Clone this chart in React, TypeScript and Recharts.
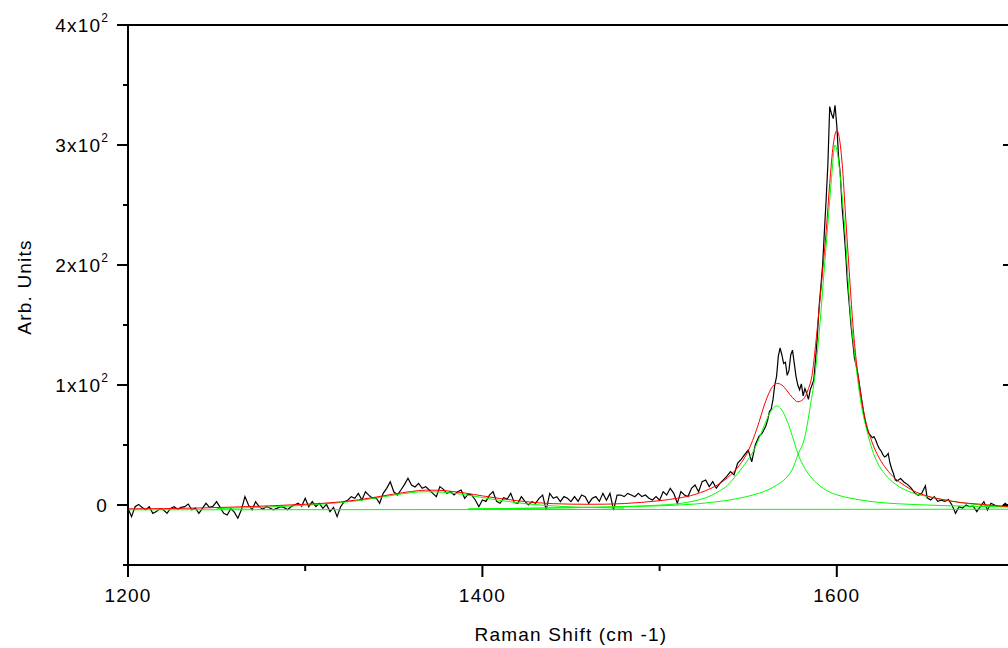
import React from 'react';
import { LineChart, Line, XAxis, YAxis, ReferenceLine } from 'recharts';

// ---- measured spectrum (Raman shift, counts) ----
const shift: number[] = [
  1200,1202,1204,1206,1208,1210,1212,1214,1216,1218,1220,1222,1224,1226,1228,1230,1232,1234,1236,1238,
  1240,1242,1244,1246,1248,1250,1252,1254,1256,1258,1260,1262,1264,1266,1268,1270,1272,1274,1276,1278,
  1280,1282,1284,1286,1288,1290,1292,1294,1296,1298,1300,1302,1304,1306,1308,1310,1312,1314,1316,1318,
  1320,1322,1324,1326,1328,1330,1332,1334,1336,1338,1340,1342,1344,1346,1348,1350,1352,1354,1356,1358,
  1360,1362,1364,1366,1368,1370,1372,1374,1376,1378,1380,1382,1384,1386,1388,1390,1392,1394,1396,1398,
  1400,1402,1404,1406,1408,1410,1412,1414,1416,1418,1420,1422,1424,1426,1428,1430,1432,1434,1436,1438,
  1440,1442,1444,1446,1448,1450,1452,1454,1456,1458,1460,1462,1464,1466,1468,1470,1472,1474,1476,1478,
  1480,1482,1484,1486,1488,1490,1492,1494,1496,1498,1500,1502,1504,1506,1508,1510,1512,1514,1516,1518,
  1520,1522,1524,1526,1528,1530,1532,1534,1536,1538,1540,1542,1544,1546,1548,1550,1552,1554,1556,1558,
  1560,1561,1562,1563,1564,1565,1566,1567,1568,1569,1570,1571,1572,1573,1574,1575,1576,1577,1578,1579,
  1580,1581,1582,1583,1584,1585,1586,1587,1588,1589,1590,1591,1592,1593,1594,1595,1596,1597,1598,1599,
  1600,1601,1602,1603,1604,1605,1606,1607,1608,1609,1610,1611,1612,1613,1614,1615,1616,1617,1618,1619,
  1620,1621,1622,1623,1624,1625,1626,1627,1628,1629,1630,1631,1632,1633,1634,1636,1638,1640,1642,1644,
  1646,1648,1650,1651,1653,1655,1657,1659,1661,1663,1665,1667,1669,1671,1673,1675,1677,1679,1681,1683,
  1685,1687,1689,1691,1693,1695,1697,1699,1700,
];
const counts: number[] = [
  -2.8,-9.7,-1.4,0.5,-2.0,-4.0,-1.4,-7.0,-5.5,-3.0,-4.0,-7.0,-2.8,-1.4,-3.6,-2.0,-1.4,0.8,-4.0,-2.5,
  -7.0,-2.8,1.4,-2.0,-1.0,2.8,-2.0,-7.0,-8.3,-3.0,-6.0,-11.0,-4.0,7.0,0.0,-4.0,2.8,-1.4,-3.6,-1.4,
  -2.5,-4.0,-2.8,-1.4,-2.0,-4.0,-1.5,0.0,1.4,-1.0,5.6,-1.4,2.8,-1.4,1.4,-2.8,0.5,-5.5,-2.0,-9.7,
  -1.4,2.8,4.0,7.0,5.6,9.7,4.2,11.0,8.0,5.6,6.0,1.4,9.7,13.9,19.4,11.0,8.3,12.5,17.0,22.3,
  16.7,15.0,18.0,13.9,15.3,12.5,9.7,7.0,15.3,13.0,9.7,11.0,8.3,11.0,12.5,5.6,9.0,8.3,4.2,-1.4,
  4.2,3.0,8.3,11.1,3.0,1.4,6.0,5.0,9.7,2.0,1.4,7.0,3.0,0.0,2.8,1.4,5.6,8.3,-4.2,9.7,
  5.6,6.9,2.8,7.0,5.6,2.8,7.0,3.0,8.3,7.0,1.4,5.6,7.0,3.0,9.7,4.0,9.7,-4.2,8.3,8.3,
  7.0,9.7,8.3,6.9,9.7,7.0,8.3,5.6,4.2,7.0,4.0,11.1,8.3,13.9,9.7,1.4,11.1,8.3,7.0,13.9,
  16.7,11.1,19.4,20.8,15.3,19.4,14.0,18.0,21.0,24.0,27.8,25.0,34.7,38.0,42.0,45.8,36.0,50.0,57.0,60.0,
  66.0,71.0,78.0,80.0,88.0,100.0,107.0,124.0,131.0,125.0,118.0,119.0,108.0,112.0,125.0,129.0,118.0,107.0,100.0,96.0,
  101.0,91.0,97.0,93.0,88.0,96.0,100.0,104.0,121.0,140.0,165.0,182.0,200.0,228.0,255.0,285.0,332.0,326.0,322.0,333.0,
  316.0,290.0,275.0,248.0,230.0,210.0,185.0,168.0,150.0,136.0,122.0,116.0,108.0,98.0,88.0,78.0,70.0,64.0,60.0,58.0,
  56.0,57.0,54.0,50.0,47.0,45.0,42.0,40.0,41.0,43.0,35.0,30.0,26.0,21.0,20.0,22.0,19.0,17.0,14.0,10.0,
  8.0,10.0,16.0,6.0,4.2,7.0,3.0,4.0,3.0,4.5,0.0,-6.9,-1.4,-2.5,0.0,-1.4,-1.0,-5.5,-1.4,2.8,
  -4.2,1.4,0.0,-1.0,-1.4,1.4,-1.0,0.5,-1.0,
];

// ---- cumulative fit (red) ----
const fitShift: number[] = [
  1200,1220,1240,1260,1280,1300,1310,1320,1330,1340,1350,1360,1368,1375,1383,1390,1400,1410,1420,1430,
  1440,1450,1460,1470,1480,1490,1500,1510,1520,1526,1533,1540,1545,1550,1555,1560,1563,1566,1569,1572,
  1575,1578,1581,1584,1586,1588,1590,1592,1594,1596,1598,1600,1601,1603,1605,1607,1609,1611,1613,1616,
  1620,1624,1628,1633,1638,1643,1651,1661,1670,1680,1690,1700,
];
const fitTotal: number[] = [
  -3.2,-3.0,-2.5,-1.7,-0.7,0.6,1.4,2.6,4.3,6.6,9.1,11.3,12.4,12.3,11.3,10.0,7.6,5.4,3.5,2.0,
  1.1,0.7,0.6,0.7,1.2,2.2,3.6,5.6,8.8,12.0,17.0,25.0,33.0,45.0,64.0,87.0,97.0,101.4,100.0,95.0,
  89.5,86.0,88.0,97.0,108.0,133.0,163.0,195.0,228.0,268.0,300.0,312.0,309.0,285.0,240.0,195.0,152.0,120.0,97.0,72.0,
  52.0,39.0,30.0,22.0,16.5,12.0,7.5,4.2,2.0,0.8,-0.6,-1.6,
];

// ---- fitted components (green) ----
const baseShift: number[] = [1200, 1700];
const baseVal: number[] = [-4.0, -3.5];

const dShift: number[] = [
  1250,1270,1290,1300,1310,1320,1330,1340,1350,1360,1368,1375,1385,1395,1405,1415,1425,1435,1445,1460,1480,
];
const dVal: number[] = [
  -3.0,-2.2,-1.0,-0.2,0.8,2.0,3.6,5.8,8.2,10.3,11.1,10.9,9.6,7.5,5.0,2.8,1.0,-0.3,-1.2,-2.0,-2.6,
];

const g1Shift: number[] = [
  1392,1420,1450,1470,1490,1500,1510,1520,1526,1533,1538,1542,1546,1550,1553,1556,1559,1562,1564,1566,
  1568,1570,1572,1575,1578,1581,1585,1590,1595,1600,1608,1616,1625,1635,1645,1660,1680,1700,
];
const g1Val: number[] = [
  -3.3,-2.9,-2.3,-1.7,-0.8,-0.1,1.0,3.5,6.0,11.0,16.0,22.5,30.0,38.0,45.0,55.0,66.0,76.0,80.5,82.5,
  81.0,76.5,70.0,57.0,43.0,33.0,24.0,16.5,11.5,8.5,5.6,3.6,2.0,1.0,0.3,-0.5,-1.2,-1.6,
];

const g2Shift: number[] = [
  1392,1420,1450,1470,1490,1500,1510,1520,1530,1540,1550,1556,1561,1566,1571,1575,1578,1582,1585,1588,
  1590.5,1593,1595,1597,1599,1600.5,1602.7,1604.6,1607.4,1610.3,1614,1617,1620,1623,1627,1633,1642,1652,1661,1670,
  1680,1690,1700,
];
const g2Val: number[] = [
  -3.3,-2.8,-2.2,-1.7,-1.1,-0.7,-0.1,0.8,2.3,4.3,7.3,9.8,12.5,16.5,22.0,30.0,41.7,57.0,82.0,112.0,
  151.0,198.0,235.0,272.0,300.0,292.0,262.0,229.0,165.0,123.0,82.0,62.0,46.0,35.0,26.0,17.5,10.5,6.8,4.2,2.0,
  0.2,-1.0,-1.6,
];

// ---- axes ----
const xTicks: number[] = [1200, 1300, 1400, 1500, 1600, 1700];
const xMajor: number[] = [1200, 1400, 1600];
const yTicks: number[] = [-50, 0, 50, 100, 150, 200, 250, 300, 350, 400];
const yMajor: number[] = [0, 100, 200, 300, 400];
const yMantissa: string[] = ['0', '1', '2', '3', '4'];
const rightTickStart = 1693.8; // inward tick on the mirrored right axis (~11px)

const toPts = (xs: number[], ys: number[]) => xs.map((x, i) => ({ x, y: ys[i] }));
const rawData = toPts(shift, counts);
const fitData = toPts(fitShift, fitTotal);
const baseData = toPts(baseShift, baseVal);
const dData = toPts(dShift, dVal);
const g1Data = toPts(g1Shift, g1Val);
const g2Data = toPts(g2Shift, g2Val);

const FONT = '"Liberation Sans", Arial, sans-serif';
const txt = { fontFamily: FONT, fontSize: 19, letterSpacing: 1.2, fill: '#000' } as const;

const XTick = (props: any) => {
  const { x, y, payload } = props;
  const v = payload.value as number;
  const major = xMajor.includes(v);
  return (
    <g>
      <line x1={x} x2={x} y1={y} y2={y + (major ? 12 : 6)} stroke="#000" strokeWidth={2} />
      {major && (
        <text x={x} y={y + 37} textAnchor="middle" style={txt}>
          {String(v)}
        </text>
      )}
    </g>
  );
};

const YTick = (props: any) => {
  const { x, y, payload } = props;
  const v = payload.value as number;
  const idx = yMajor.indexOf(v);
  const major = idx >= 0;
  return (
    <g>
      <line x1={x - (major ? 11 : 5)} x2={x} y1={y} y2={y} stroke="#000" strokeWidth={2} />
      {major && (
        <text x={x - 20} y={y + 7} textAnchor="end" style={txt}>
          {v === 0 ? (
            '0'
          ) : (
            <>
              {yMantissa[idx] + 'x10'}
              <tspan dy={-10} style={{ fontSize: 12, letterSpacing: 0 }}>2</tspan>
            </>
          )}
        </text>
      )}
    </g>
  );
};

const XTitle = () => (
  <text x={571} y={641} textAnchor="middle" style={txt}>
    Raman Shift (cm -1)
  </text>
);

const YTitle = () => (
  <text x={31} y={287} textAnchor="middle" transform="rotate(-90, 31, 287)" style={txt}>
    Arb. Units
  </text>
);

export default function App() {
  return (
    <div
      style={{
        position: 'fixed',
        left: 0,
        top: 0,
        width: 1008,
        height: 648,
        overflow: 'hidden',
        background: '#fff',
      }}
    >
      <LineChart width={1040} height={648} margin={{ top: 25, right: 26, bottom: 0, left: 0 }}>
        <XAxis
          dataKey="x"
          type="number"
          domain={[1200, 1700]}
          ticks={xTicks}
          allowDataOverflow
          height={83}
          tickSize={0}
          tickMargin={0}
          tickLine={false}
          axisLine={{ stroke: '#000', strokeWidth: 2 }}
          tick={<XTick />}
          interval={0}
          label={<XTitle />}
        />
        <YAxis
          type="number"
          domain={[-50, 400]}
          ticks={yTicks}
          allowDataOverflow
          width={128}
          tickSize={0}
          tickMargin={0}
          tickLine={false}
          axisLine={{ stroke: '#000', strokeWidth: 2 }}
          tick={<YTick />}
          interval={0}
          label={<YTitle />}
        />
        <ReferenceLine y={400} stroke="#000" strokeWidth={2} />
        <ReferenceLine x={1700} stroke="#000" strokeWidth={2} />
        {yMajor.map((v) => (
          <ReferenceLine
            key={'rt' + v}
            segment={[
              { x: rightTickStart, y: v },
              { x: 1700, y: v },
            ]}
            stroke="#000"
            strokeWidth={2}
          />
        ))}
        <Line
          data={rawData}
          dataKey="y"
          type="linear"
          stroke="#000"
          strokeWidth={1.2}
          dot={false}
          activeDot={false}
          isAnimationActive={false}
        />
        <Line
          data={baseData}
          dataKey="y"
          type="linear"
          stroke="#00ff00"
          strokeWidth={1}
          dot={false}
          activeDot={false}
          isAnimationActive={false}
        />
        <Line
          data={dData}
          dataKey="y"
          type="monotone"
          stroke="#00ff00"
          strokeWidth={1}
          dot={false}
          activeDot={false}
          isAnimationActive={false}
        />
        <Line
          data={g1Data}
          dataKey="y"
          type="monotone"
          stroke="#00ff00"
          strokeWidth={1}
          dot={false}
          activeDot={false}
          isAnimationActive={false}
        />
        <Line
          data={g2Data}
          dataKey="y"
          type="monotone"
          stroke="#00ff00"
          strokeWidth={1}
          dot={false}
          activeDot={false}
          isAnimationActive={false}
        />
        <Line
          data={fitData}
          dataKey="y"
          type="monotone"
          stroke="#ff0000"
          strokeWidth={1}
          dot={false}
          activeDot={false}
          isAnimationActive={false}
        />
      </LineChart>
    </div>
  );
}
